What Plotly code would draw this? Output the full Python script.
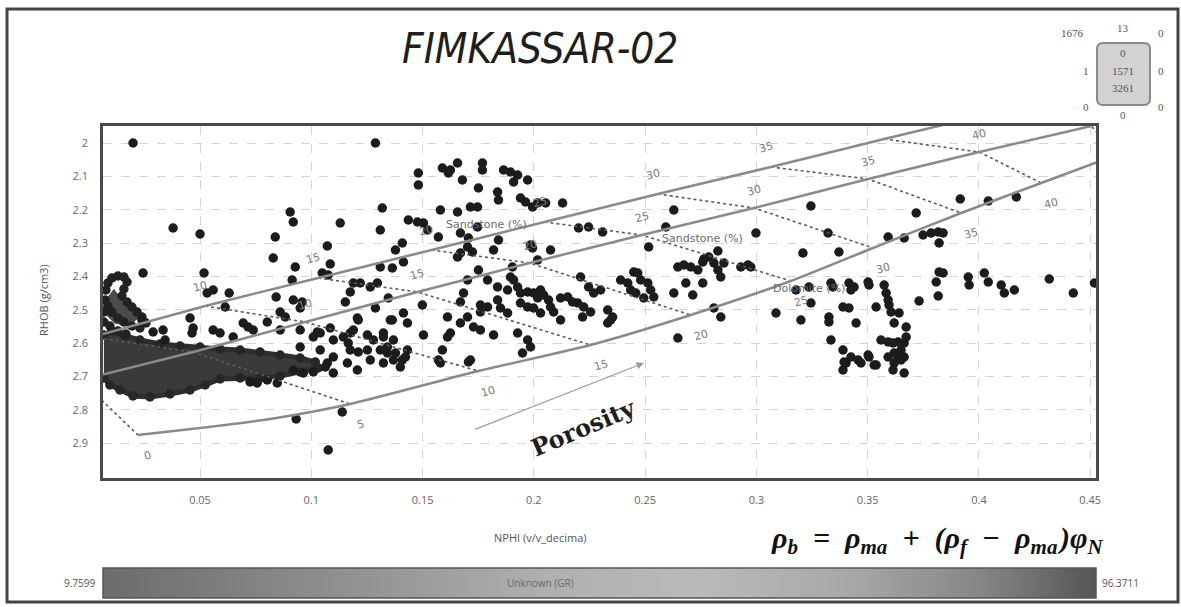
import plotly.graph_objects as go

# ---------------- data ----------------
# Scattered samples: NPHI (v/v decimal) and RHOB (g/cm3)
nphi = [
    0.0199, 0.1288, 0.0379, 0.0500, 0.0244, 0.0518, 0.0532, 0.0559, 0.0631, 0.0613,
    0.0905, 0.0919, 0.0838, 0.0829, 0.0928, 0.0914, 0.0842, 0.0919, 0.0959, 0.0950,
    0.1130, 0.1072, 0.1085, 0.1049, 0.1076, 0.1319, 0.1310, 0.1378, 0.1310, 0.1364,
    0.1189, 0.1220, 0.1175, 0.1265, 0.1297, 0.1153, 0.1346, 0.1288, 0.1211, 0.1364,
    0.0802, 0.0860, 0.0883, 0.0455, 0.0469, 0.0464, 0.0289, 0.0334, 0.0343, 0.0694,
    0.0716, 0.0739, 0.0559, 0.0590, 0.1085, 0.1040, 0.1009, 0.1099, 0.1144, 0.1175,
    0.1252, 0.1279, 0.1324, 0.1369, 0.1211, 0.1252, 0.1310, 0.1342, 0.1207, 0.1166,
    0.1175, 0.0649, 0.1040, 0.1099, 0.1072, 0.0950, 0.0239, 0.0860, 0.0950, 0.1027,
    0.1189,
    # below the dense cluster
    0.0725, 0.0757, 0.0802, 0.0847, 0.0932, 0.1139, 0.1076, 0.0919, 0.0964, 0.1009,
    0.1063, 0.1099, 0.1162, 0.1207, 0.1265, 0.1324, 0.1369, 0.1400, 0.1423, 0.1580,
    0.1706, 0.1949,
    # central cloud
    0.1481, 0.1481, 0.1589, 0.1625, 0.1657, 0.1616, 0.1769, 0.1769, 0.1679, 0.1751,
    0.1864, 0.1895, 0.1927, 0.1909, 0.1972, 0.1837, 0.1841, 0.1940, 0.1963, 0.1994,
    0.2017, 0.2053, 0.2129, 0.1580, 0.1657, 0.1715, 0.1747, 0.1436, 0.1477, 0.1504,
    0.1522, 0.1571, 0.1670, 0.1706, 0.1747, 0.1841, 0.1702, 0.1724, 0.1670, 0.1657,
    0.1819, 0.1985, 0.1994, 0.2075, 0.2017, 0.1409, 0.1414, 0.1499, 0.1751, 0.1702,
    0.1792, 0.1837, 0.1904, 0.1895, 0.1909, 0.1927, 0.1882, 0.1684, 0.1760, 0.1792,
    0.1760, 0.1670, 0.1837, 0.1850, 0.1882, 0.1940, 0.1972, 0.1999, 0.2017, 0.2030,
    0.2044, 0.2066, 0.1940, 0.1972, 0.1999, 0.2030, 0.2075, 0.2089, 0.2120, 0.2152,
    0.2174, 0.2197, 0.2210, 0.2246, 0.2269, 0.2300, 0.2224, 0.2255, 0.2219, 0.2332,
    0.2354, 0.2345, 0.2332, 0.2201, 0.2246, 0.2309, 0.2390, 0.2422, 0.2449, 0.2467,
    0.2435, 0.2458, 0.2480, 0.2512, 0.2525, 0.2539, 0.2494, 0.2629, 0.2593, 0.2516,
    0.2629, 0.2647, 0.2674, 0.2705, 0.2737, 0.2759, 0.2786, 0.2809, 0.2827, 0.2840,
    0.2854, 0.2683, 0.2714, 0.2759, 0.2809, 0.2840, 0.2930, 0.2962, 0.2975, 0.2998,
    0.3088, 0.2647, 0.1355, 0.1414, 0.1432, 0.1504, 0.1589, 0.1571, 0.1715, 0.1612,
    0.1670, 0.1702, 0.1729, 0.1760, 0.1819, 0.1927, 0.1972, 0.1985, 0.1625, 0.1612,
    0.1378, 0.1409, 0.1432, 0.1324, 0.1342, 0.2120, 0.2764, 0.2827,
    # right-hand group
    0.3245, 0.3718, 0.3916, 0.4042, 0.4168, 0.3322, 0.3592, 0.3664, 0.3749, 0.3785,
    0.3817, 0.3839, 0.3821, 0.3209, 0.3371, 0.3821, 0.3839, 0.3808, 0.3952, 0.3956,
    0.4024, 0.4042, 0.4100, 0.4114, 0.4159, 0.4316, 0.4424, 0.4519, 0.3817, 0.3731,
    0.3178, 0.3236, 0.3335, 0.3344, 0.3416, 0.3425, 0.3439, 0.3502, 0.3506, 0.3200,
    0.3245, 0.3326, 0.3326, 0.3389, 0.3416, 0.3448, 0.3538, 0.3574, 0.3583, 0.3592,
    0.3596, 0.3605, 0.3641, 0.3619, 0.3673, 0.3673, 0.3664, 0.3335, 0.3389, 0.3403,
    0.3457, 0.3506, 0.3538, 0.3560, 0.3592, 0.3614, 0.3637, 0.3650, 0.3619, 0.3637,
    0.3664, 0.3394, 0.3425, 0.3470, 0.3502, 0.3529, 0.3592, 0.3619, 0.3650, 0.3664,
    0.3614, 0.3389,
]
rhob = [
    2.000, 2.000, 2.255, 2.273, 2.390, 2.390, 2.450, 2.441, 2.450, 2.492,
    2.207, 2.237, 2.282, 2.345, 2.372, 2.411, 2.462, 2.471, 2.477, 2.495,
    2.240, 2.309, 2.363, 2.390, 2.396, 2.195, 2.261, 2.321, 2.372, 2.375,
    2.420, 2.420, 2.447, 2.432, 2.420, 2.477, 2.465, 2.495, 2.531, 2.531,
    2.537, 2.507, 2.522, 2.525, 2.555, 2.570, 2.567, 2.561, 2.591, 2.540,
    2.552, 2.561, 2.561, 2.570, 2.555, 2.570, 2.582, 2.591, 2.582, 2.570,
    2.576, 2.591, 2.570, 2.591, 2.627, 2.621, 2.621, 2.630, 2.525, 2.600,
    2.621, 2.582, 2.621, 2.642, 2.660, 2.612, 2.531, 2.561, 2.561, 2.567,
    2.561,
    2.717, 2.720, 2.711, 2.720, 2.828, 2.807, 2.921, 2.681, 2.690, 2.687,
    2.672, 2.690, 2.660, 2.681, 2.651, 2.660, 2.651, 2.672, 2.642, 2.660,
    2.657, 2.630,
    2.090, 2.126, 2.075, 2.081, 2.060, 2.090, 2.060, 2.081, 2.111, 2.135,
    2.081, 2.087, 2.096, 2.117, 2.111, 2.147, 2.171, 2.165, 2.177, 2.192,
    2.180, 2.180, 2.180, 2.201, 2.207, 2.192, 2.192, 2.231, 2.237, 2.240,
    2.261, 2.282, 2.270, 2.285, 2.252, 2.291, 2.312, 2.327, 2.330, 2.342,
    2.321, 2.306, 2.315, 2.321, 2.351, 2.300, 2.357, 2.486, 2.381, 2.411,
    2.411, 2.432, 2.372, 2.402, 2.411, 2.432, 2.441, 2.450, 2.486, 2.492,
    2.507, 2.477, 2.471, 2.495, 2.510, 2.450, 2.447, 2.450, 2.465, 2.441,
    2.456, 2.471, 2.480, 2.492, 2.495, 2.510, 2.492, 2.507, 2.465, 2.462,
    2.477, 2.480, 2.402, 2.432, 2.450, 2.441, 2.492, 2.507, 2.522, 2.501,
    2.522, 2.531, 2.540, 2.255, 2.252, 2.267, 2.411, 2.420, 2.387, 2.390,
    2.441, 2.450, 2.411, 2.420, 2.441, 2.462, 2.465, 2.201, 2.252, 2.312,
    2.450, 2.372, 2.366, 2.372, 2.381, 2.357, 2.342, 2.360, 2.381, 2.402,
    2.360, 2.420, 2.456, 2.420, 2.495, 2.522, 2.372, 2.366, 2.372, 2.270,
    2.510, 2.585, 2.531, 2.510, 2.540, 2.576, 2.621, 2.651, 2.651, 2.522,
    2.540, 2.522, 2.552, 2.561, 2.576, 2.570, 2.591, 2.612, 2.570, 2.582,
    2.630, 2.651, 2.621, 2.582, 2.612, 2.531, 2.348, 2.324,
    2.189, 2.210, 2.168, 2.174, 2.162, 2.270, 2.282, 2.285, 2.276, 2.270,
    2.267, 2.270, 2.300, 2.330, 2.327, 2.387, 2.390, 2.417, 2.402, 2.426,
    2.390, 2.417, 2.426, 2.450, 2.441, 2.408, 2.450, 2.420, 2.459, 2.474,
    2.441, 2.432, 2.420, 2.432, 2.420, 2.441, 2.432, 2.417, 2.426, 2.531,
    2.480, 2.522, 2.537, 2.492, 2.495, 2.540, 2.492, 2.426, 2.450, 2.471,
    2.486, 2.507, 2.510, 2.540, 2.552, 2.582, 2.600, 2.591, 2.621, 2.660,
    2.651, 2.642, 2.666, 2.591, 2.597, 2.600, 2.597, 2.621, 2.630, 2.645,
    2.642, 2.657, 2.642, 2.660, 2.636, 2.666, 2.642, 2.660, 2.651, 2.690,
    2.681, 2.681,
]

# Curled chain of samples at the far left (NPHI < 0.03, RHOB 2.40-2.57)
chain_nphi = [0.0073, 0.0077, 0.0086, 0.0104, 0.0131, 0.0158, 0.0172, 0.0158, 0.0149, 0.0172,
              0.0194, 0.0217, 0.0239, 0.0257, 0.0230, 0.0194, 0.0158, 0.0131, 0.0104, 0.0086,
              0.0068, 0.0068, 0.0095, 0.0131, 0.0167]
chain_rhob = [2.471, 2.441, 2.420, 2.405, 2.399, 2.402, 2.417, 2.438, 2.459, 2.477,
              2.492, 2.507, 2.522, 2.540, 2.555, 2.549, 2.537, 2.525, 2.507, 2.489,
              2.507, 2.537, 2.549, 2.564, 2.573]
chain_fill_nphi = [0.0086, 0.0113, 0.0140, 0.0176, 0.0212, 0.0176, 0.0122, 0.0086]
chain_fill_rhob = [2.471, 2.447, 2.471, 2.495, 2.525, 2.543, 2.537, 2.513]

# Outline of the saturated (overlapping) main cluster at low NPHI
cluster_main_nphi = [0.0068, 0.0104, 0.0163, 0.0230, 0.0320, 0.0410, 0.0500, 0.0590, 0.0680,
                     0.0770, 0.0860, 0.0950, 0.1018, 0.1031, 0.0950, 0.0860, 0.0770, 0.0680,
                     0.0590, 0.0523, 0.0455, 0.0365, 0.0275, 0.0199, 0.0140, 0.0095, 0.0068]
cluster_main_rhob = [2.576, 2.564, 2.579, 2.591, 2.603, 2.609, 2.612, 2.618, 2.621,
                     2.627, 2.636, 2.645, 2.657, 2.675, 2.687, 2.699, 2.705, 2.705,
                     2.708, 2.726, 2.741, 2.753, 2.762, 2.759, 2.741, 2.726, 2.705]

# Lithology lines (porosity in %)
porosity_pct = [0, 5, 10, 15, 20, 25, 30, 35, 40, 45]
sand_nphi = [-0.0495, 0.0014, 0.0523, 0.1031, 0.1540, 0.2048, 0.2557, 0.3065, 0.3574, 0.4082]
sand_rhob = [2.669, 2.582, 2.489, 2.405, 2.321, 2.237, 2.153, 2.072, 1.988, 1.907]
lime_nphi = [-0.0036, 0.0469, 0.0973, 0.1477, 0.1981, 0.2485, 0.2989, 0.3502, 0.4001, 0.4505]
lime_rhob = [2.711, 2.627, 2.537, 2.447, 2.360, 2.276, 2.195, 2.108, 2.027, 1.949]
dolo_nphi = [0.0221, 0.1175, 0.1751, 0.2255, 0.2705, 0.3155, 0.3524, 0.3920, 0.4280, 0.4618]
dolo_rhob = [2.876, 2.783, 2.684, 2.606, 2.516, 2.414, 2.315, 2.210, 2.120, 2.036]
dolo_curve_nphi = [0.0221, 0.0500, 0.0815, 0.1175, 0.1751, 0.2255, 0.2705, 0.3155, 0.3524,
                   0.3920, 0.4280, 0.4618]
dolo_curve_rhob = [2.876, 2.855, 2.828, 2.783, 2.684, 2.606, 2.516, 2.414, 2.315,
                   2.210, 2.120, 2.036]

sand_labels = [10, 15, 20, 25, 30, 35]
lime_labels = [10, 15, 20, 25, 30, 35, 40]
dolo_labels = [0, 5, 10, 15, 20, 25, 30, 35, 40]

# Colour bar (GR)
gr_min, gr_max = 9.7599, 96.3711

# Axis ticks
x_ticks = [0.05, 0.10, 0.15, 0.20, 0.25, 0.30, 0.35, 0.40, 0.45]
x_ticktext = ["0.05", "0.1", "0.15", "0.2", "0.25", "0.3", "0.35", "0.4", "0.45"]
y_ticks = [2.0, 2.1, 2.2, 2.3, 2.4, 2.5, 2.6, 2.7, 2.8, 2.9]
y_ticktext = ["2", "2.1", "2.2", "2.3", "2.4", "2.5", "2.6", "2.7", "2.8", "2.9"]

# ---------------- layout helpers ----------------
W, H = 1181, 607
ML, MR, MT, MB = 103, 85, 126, 9
PW = W - ML - MR
PH = H - MT - MB


def pxx(x):
    return (x - ML) / PW


def pxy(y):
    return (H - MB - y) / PH


fig = go.Figure()

# dense cluster
fig.add_trace(go.Scatter(x=cluster_main_nphi, y=cluster_main_rhob, mode="lines+markers", fill="toself",
                         fillcolor="#3a3a3a", line=dict(color="#2e2e2e", width=5),
                         marker=dict(size=9.5, color="#262626"),
                         hoverinfo="skip", showlegend=False))
fig.add_trace(go.Scatter(x=chain_fill_nphi, y=chain_fill_rhob, mode="lines", fill="toself",
                         fillcolor="#4c4c4c", line=dict(color="#4c4c4c", width=4),
                         hoverinfo="skip", showlegend=False))
fig.add_trace(go.Scatter(x=chain_nphi, y=chain_rhob, mode="markers",
                         marker=dict(size=9.5, color="#222222"),
                         hoverinfo="skip", showlegend=False))

# points
fig.add_trace(go.Scatter(x=nphi, y=rhob, mode="markers",
                         marker=dict(size=9.5, color="#1c1c1c"),
                         hoverinfo="skip", showlegend=False))

# iso-porosity dotted lines
dx, dy = [], []
for i in range(len(porosity_pct)):
    dx += [sand_nphi[i], lime_nphi[i], dolo_nphi[i], None]
    dy += [sand_rhob[i], lime_rhob[i], dolo_rhob[i], None]
fig.add_trace(go.Scatter(x=dx, y=dy, mode="lines",
                         line=dict(color="#5a5a5a", width=1.6, dash="dot"),
                         hoverinfo="skip", showlegend=False))

# lithology lines
for lx, ly in [(sand_nphi, sand_rhob), (lime_nphi, lime_rhob), (dolo_curve_nphi, dolo_curve_rhob)]:
    fig.add_trace(go.Scatter(x=lx, y=ly, mode="lines",
                             line=dict(color="#8a8a8a", width=2.5, shape="spline", smoothing=0.6),
                             hoverinfo="skip", showlegend=False))

# GR colour bar as a smooth heatmap on its own axes
fig.add_trace(go.Heatmap(z=[[gr_min, gr_max]], x=[gr_min, gr_max], y=[0],
                         zmin=gr_min, zmax=gr_max, zsmooth="best", showscale=False,
                         colorscale=[[0, "#6c6c6c"], [0.12, "#7e7e7e"], [0.3, "#999999"],
                                     [0.45, "#b0b0b0"], [0.6, "#bababa"], [0.75, "#a8a8a8"],
                                     [0.88, "#878787"], [1, "#555555"]],
                         xaxis="x2", yaxis="y2", hoverinfo="skip"))

ann = []


def add_text(**kw):
    kw.setdefault("xanchor", "center")
    kw.setdefault("yanchor", "middle")
    kw.setdefault("showarrow", False)
    ann.append(kw)


lab_font = dict(family="DejaVu Sans", size=11, color="#7a7a7a")
for p in sand_labels:
    i = porosity_pct.index(p)
    add_text(x=sand_nphi[i], y=sand_rhob[i], xref="x", yref="y", text=str(p),
             xshift=-5, yshift=20, textangle=-15, font=lab_font)
for p in lime_labels:
    i = porosity_pct.index(p)
    add_text(x=lime_nphi[i], y=lime_rhob[i], xref="x", yref="y", text=str(p),
             xshift=0, yshift=18, textangle=-15, font=lab_font)
for p in dolo_labels:
    i = porosity_pct.index(p)
    add_text(x=dolo_nphi[i], y=dolo_rhob[i], xref="x", yref="y", text=str(p),
             xshift=10, yshift=-20, textangle=-15, font=lab_font)

name_font = dict(family="DejaVu Sans", size=11, color="#6a6a6a")
add_text(x=(sand_nphi[4] + sand_nphi[5]) / 2, y=(sand_rhob[4] + sand_rhob[5]) / 2, xref="x", yref="y",
         text="Sandstone (%)", yshift=12, xshift=-2, font=name_font)
add_text(x=(lime_nphi[5] + lime_nphi[6]) / 2, y=(lime_rhob[5] + lime_rhob[6]) / 2, xref="x", yref="y",
         text="Sandstone (%)", yshift=-17, xshift=5, font=name_font)
add_text(x=dolo_nphi[5], y=dolo_rhob[5], xref="x", yref="y",
         text="Dolomite (%)", yshift=-7, xshift=18, font=name_font)

# Porosity arrow + text
ann.append(dict(x=0.2494, y=2.660, ax=0.1729, ay=2.861, xref="x", yref="y", axref="x", ayref="y",
                text="", showarrow=True, arrowhead=2, arrowsize=1.2, arrowwidth=1.2, arrowcolor="#9a9a9a"))
add_text(x=0.2224, y=2.853, xref="x", yref="y", text="<b>Porosity</b>",
         textangle=-23, font=dict(family="DejaVu Serif", size=24, color="#1e1e1e"))

# Title
add_text(x=pxx(540), y=pxy(48), xref="paper", yref="paper", text="FIMKASSAR-02",
         font=dict(family="Liberation Sans Narrow, DejaVu Sans Condensed, Open Sans", size=42,
                   color="#1e1e1e", style="italic"))

# axis titles
add_text(x=pxx(540), y=pxy(537), xref="paper", yref="paper", text="NPHI (v/v_decima)",
         font=dict(family="Open Sans", size=11, color="#555"))
add_text(x=pxx(43), y=pxy(300), xref="paper", yref="paper", text="RHOB (g/cm3)",
         textangle=-90, font=dict(family="Open Sans", size=11, color="#555"))

# equation
add_text(x=pxx(937), y=pxy(540), xref="paper", yref="paper",
         text=("<b><i>ρ<sub>b</sub>&nbsp; =&nbsp; ρ<sub>ma</sub>&nbsp; +&nbsp; (ρ<sub>f</sub>&nbsp; −&nbsp; "
               "ρ<sub>ma</sub>&#8202;)φ<sub>N</sub></i></b>"),
         font=dict(family="Liberation Serif", size=30, color="#111"))

# colour bar labels
add_text(x=pxx(97), y=pxy(583), xref="paper", yref="paper", text=f"{gr_min:.4f}", xanchor="right",
         font=dict(family="Open Sans", size=10, color="#555"))
add_text(x=pxx(1100), y=pxy(583), xref="paper", yref="paper", text=f"{gr_max:.4f}", xanchor="left",
         font=dict(family="Open Sans", size=10, color="#555"))
add_text(x=pxx(540), y=pxy(583), xref="paper", yref="paper", text="Unknown (GR)",
         font=dict(family="Open Sans", size=10, color="#6a6a6a"))

# top-right count panel
panel = [("1676", 1072, 33), ("13", 1123, 28), ("0", 1161, 33), ("1", 1086, 71), ("0", 1123, 53),
         ("1571", 1123, 71), ("3261", 1123, 88), ("0", 1161, 71), ("0", 1086, 107), ("0", 1123, 115),
         ("0", 1161, 107)]
for t, x, y in panel:
    add_text(x=pxx(x), y=pxy(y), xref="paper", yref="paper", text=t,
             font=dict(family="Liberation Serif", size=11, color="#555"))

# shapes
x0, x1, y0, y1 = pxx(1097), pxx(1150), pxy(105), pxy(43)
rx, ry = 6 / PW, 6 / PH
box_path = (f"M {x0+rx},{y1} L {x1-rx},{y1} Q {x1},{y1} {x1},{y1-ry} L {x1},{y0+ry} Q {x1},{y0} {x1-rx},{y0} "
            f"L {x0+rx},{y0} Q {x0},{y0} {x0},{y0+ry} L {x0},{y1-ry} Q {x0},{y1} {x0+rx},{y1} Z")
shapes = [
    dict(type="path", path=box_path, xref="paper", yref="paper", fillcolor="#d2d2d2",
         line=dict(color="#8a8a8a", width=2), layer="below"),
    dict(type="rect", xref="paper", yref="paper", x0=pxx(7), x1=pxx(1178), y0=pxy(602), y1=pxy(9),
         line=dict(color="#444", width=3)),
    dict(type="rect", xref="paper", yref="paper", x0=0, x1=1, y0=pxy(598), y1=pxy(568),
         line=dict(color="#555", width=1.5)),
]

fig.update_layout(
    width=W, height=H,
    margin=dict(l=ML, r=MR, t=MT, b=MB),
    paper_bgcolor="white", plot_bgcolor="white",
    hovermode=False, showlegend=False,
    annotations=ann, shapes=shapes,
    xaxis=dict(range=[0.0064, 0.4526], domain=[0, 1], anchor="y",
               tickvals=x_ticks, ticktext=x_ticktext, ticks="", ticklabelstandoff=10,
               tickfont=dict(family="Open Sans", size=11, color="#666"),
               showgrid=True, gridcolor="#d4d4d4", griddash="dash", gridwidth=1,
               showline=True, linecolor="#4a4a4a", linewidth=2.5, mirror=True, zeroline=False),
    yaxis=dict(range=[3.005, 1.949], domain=[pxy(478), 1], anchor="x",
               tickvals=y_ticks, ticktext=y_ticktext, ticks="", ticklabelstandoff=10,
               tickfont=dict(family="Open Sans", size=11, color="#666"),
               showgrid=True, gridcolor="#d4d4d4", griddash="dash", gridwidth=1,
               showline=True, linecolor="#4a4a4a", linewidth=2.5, mirror=True, zeroline=False),
    xaxis2=dict(range=[gr_min, gr_max], domain=[0, 1], anchor="y2", visible=False),
    yaxis2=dict(range=[-0.5, 0.5], domain=[0, pxy(568)], anchor="x2", visible=False),
)

fig.write_html("out.html")
